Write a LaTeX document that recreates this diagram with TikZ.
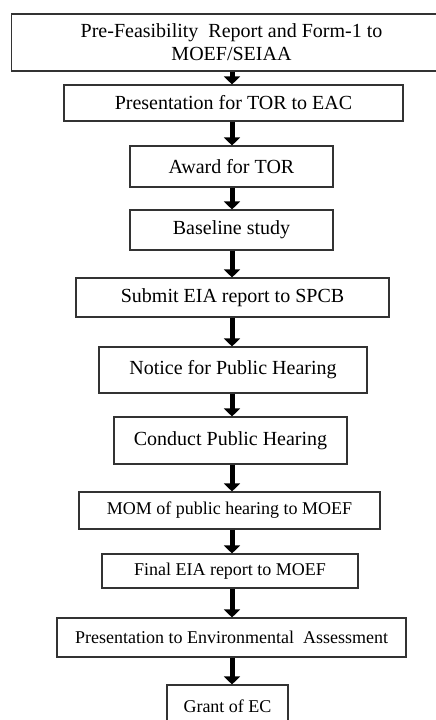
\documentclass[tikz,border=0pt]{standalone}
\usepackage{fontspec}
\setmainfont{Liberation Serif}
\usepackage{tikz}
\usetikzlibrary{arrows.meta, positioning, calc}

\begin{document}
\begin{tikzpicture}[x=1pt, y=-1pt,
    stagebox/.style={draw=black!80, line width=1.1pt, rectangle, inner sep=0pt, align=center, font=\fontsize{20}{23}\selectfont},
    smallbox/.style={stagebox, font=\fontsize{18}{21}\selectfont},
    flowarrow/.style={line width=5pt, -{Triangle[width=16pt, length=8pt]}}]
      \useasboundingbox (0, 0) rectangle (436, 720);

      % AXIS OF ARROWS
      \coordinate (axis) at (232, 0);

      % Pre-feasibility
      \node[stagebox, minimum width=440pt, minimum height=57pt] (prefeas) at (231.5, 42.5) {Pre-Feasibility\ \ Report and Form-1 to \\ MOEF/SEIAA};

      % TOR presentation
      \node[stagebox, minimum width=339pt, minimum height=36pt] (torpres) at (233.5, 103) {Presentation for TOR to EAC};

      % TOR award
      \node[stagebox, minimum width=203pt, minimum height=41pt] (toraward) at (231.5, 166.5) {Award for TOR};

      % Baseline
      \node[stagebox, minimum width=203pt, minimum height=40pt] (baseline) at (231.5, 230) {Baseline study};

      % EIA to SPCB
      \node[stagebox, minimum width=313pt, minimum height=39pt] (submit) at (232.5, 297.5) {Submit EIA report to SPCB};

      % Notice
      \node[stagebox, minimum width=268pt, minimum height=46pt] (notice) at (233, 370) {Notice for Public Hearing};

      % Public hearing
      \node[stagebox, minimum width=233pt, minimum height=47pt] (hearing) at (230.5, 440.5) {Conduct Public Hearing};

      % MOM
      \node[smallbox, minimum width=301pt, minimum height=37pt] (mom) at (229.5, 510.5) {MOM of public hearing to MOEF};

      % Final EIA
      \node[smallbox, minimum width=256pt, minimum height=34pt] (finaleia) at (230, 571) {Final EIA report to MOEF};

      % Assessment
      \node[smallbox, minimum width=349pt, minimum height=39pt] (assess) at (231.5, 637.5) {Presentation to Environmental\ \ Assessment};

      % Grant
      \node[smallbox, minimum width=121pt, minimum height=42pt] (grant) at (227.5, 706) {Grant of EC};

      % ARROWS
      \foreach \a/\b in {prefeas/torpres, torpres/toraward, toraward/baseline, baseline/submit, submit/notice, notice/hearing, hearing/mom, mom/finaleia, finaleia/assess, assess/grant}
        \draw[flowarrow] (\a.south -| axis) -- (\b.north -| axis);
    \end{tikzpicture}
\end{document}
